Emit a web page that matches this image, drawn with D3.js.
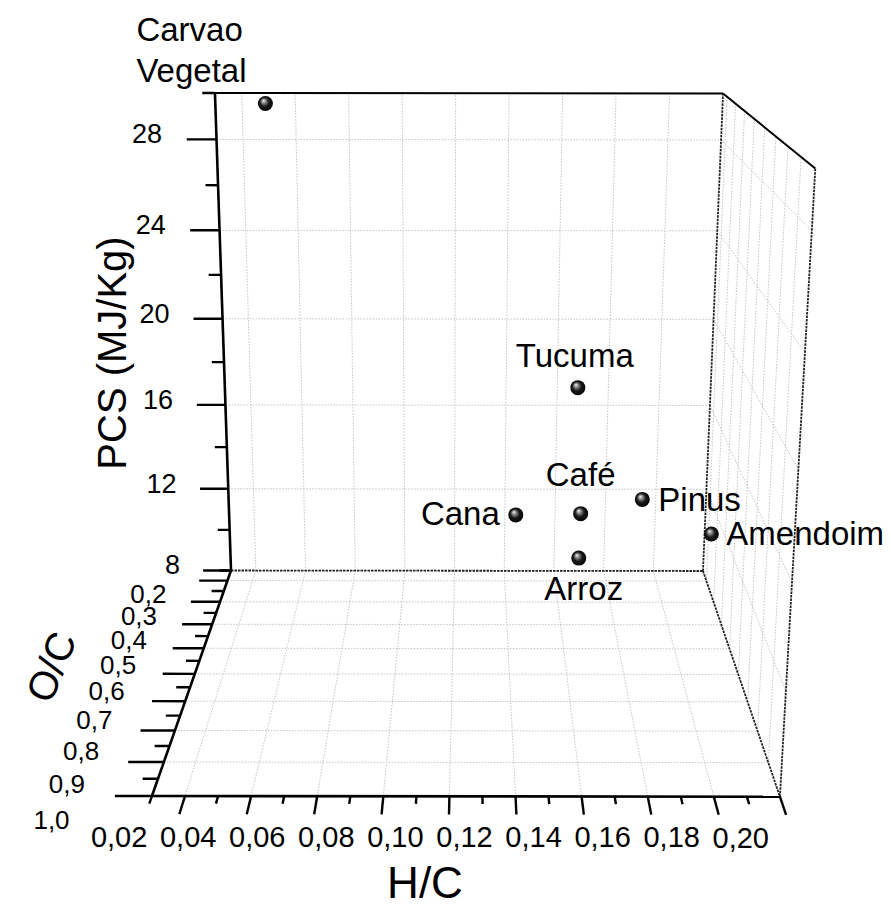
<!DOCTYPE html>
<html>
<head>
<meta charset="utf-8">
<script src="https://cdn.jsdelivr.net/npm/d3@7"></script>
<style>
  html, body { margin: 0; padding: 0; background: #fff; }
  svg { display: block; font-family: "Liberation Sans", Arial, Helvetica, sans-serif; }
</style>
</head>
<body>
<svg id="chart" width="891" height="910"></svg>
<script>
// ---- data: one entry per biomass sample ----
const names     = ["Carvao\nVegetal", "Tucuma", "Café", "Cana", "Pinus", "Amendoim", "Arroz"];
const hcValues  = [0.050, 0.159, 0.160, 0.140, 0.180, 0.199, 0.159];   // H/C
const ocValues  = [0.20,  0.80,  0.85,  0.85,  0.80,  0.90,  0.90];    // O/C
const pcsValues = [29.7,  21.4,  17.1,  17.05, 17.2,  16.8,  15.9];    // PCS (MJ/Kg)

// ---- axis ticks ----
const hcTickValues  = [0.02, 0.04, 0.06, 0.08, 0.10, 0.12, 0.14, 0.16, 0.18, 0.20];
const ocTickValues  = [0.2, 0.3, 0.4, 0.5, 0.6, 0.7, 0.8, 0.9, 1.0];
const pcsTickValues = [8, 12, 16, 20, 24, 28];

// label placement around each sphere (layout only)
const labelPlacement = [
  { anchor: "start",  dx: -129, dy: -62 },
  { anchor: "middle", dx: -3,   dy: -21 },
  { anchor: "middle", dx: 0,    dy: -28 },
  { anchor: "end",    dx: -16,  dy: 10 },
  { anchor: "start",  dx: 16,   dy: 12 },
  { anchor: "start",  dx: 15,   dy: 11 },
  { anchor: "middle", dx: 5,    dy: 42 }
];

const svg = d3.select("#chart");
const comma = d3.formatLocale({ decimal: ",", thousands: ".", grouping: [3], currency: ["", ""] });
const fmtHC = comma.format(".2f"), fmtOC = comma.format(".1f"), fmtPCS = d3.format("d");

// data -> unit cube coordinates
const hc  = d3.scaleLinear().domain([0.03, 0.22]).range([0, 1]);   // left -> right
const oc  = d3.scaleLinear().domain([0.15, 1.00]).range([0, 1]);   // back -> front
const pcs = d3.scaleLinear().domain([8, 30]).range([0, 1]);        // bottom -> top

// projective camera (3x4) taking unit-cube coordinates to screen pixels
const camera = [
  [472.0, -116.8,  -31.3, 231.0],
  [  0.5,   27.8, -484.1, 570.5],
  [  0.0,  -0.2484, -0.071,  1.0]
];
function project(u, v, w) {
  const p = [u, v, w, 1];
  const dot = r => r[0] * p[0] + r[1] * p[1] + r[2] * p[2] + r[3] * p[3];
  const s = dot(camera[2]);
  return [dot(camera[0]) / s, dot(camera[1]) / s];
}
const line3d = (a, b) => {
  const p = project(...a), q = project(...b);
  return `M${p[0]},${p[1]}L${q[0]},${q[1]}`;
};

const eps = 1e-9;
const hcMinor  = d3.range(0.03, 0.2201, 0.01).map(v => +v.toFixed(2));
const ocMinor  = d3.range(0.15, 1.0001, 0.05).map(v => +v.toFixed(2));
const pcsMinor = d3.range(8, 31, 2);
const isMajorHC  = v => Math.round(v * 100) % 2 === 0;
const isMajorOC  = v => Math.round(v * 100) % 10 === 0;
const isMajorPCS = v => v % 4 === 0;

// ---- grid ----
const grid = svg.append("g")
  .attr("fill", "none").attr("stroke", "#c4c4c4").attr("stroke-width", 1)
  .attr("stroke-dasharray", "1.5,1.5");
const innerHC  = hcMinor.filter(v => isMajorHC(v) && hc(v) > eps && hc(v) < 1 - eps);
const innerOC  = ocMinor.filter(v => isMajorOC(v) && oc(v) > eps && oc(v) < 1 - eps);
const innerPCS = pcsMinor.filter(v => isMajorPCS(v) && pcs(v) > eps && pcs(v) < 1 - eps);
// back wall
innerHC.forEach(v => grid.append("path").attr("d", line3d([hc(v), 0, 0], [hc(v), 0, 1])));
innerPCS.forEach(v => grid.append("path").attr("d", line3d([0, 0, pcs(v)], [1, 0, pcs(v)])));
// floor
innerHC.forEach(v => grid.append("path").attr("d", line3d([hc(v), 0, 0], [hc(v), 1, 0])));
innerOC.forEach(v => grid.append("path").attr("d", line3d([0, oc(v), 0], [1, oc(v), 0])));
// right wall
innerOC.forEach(v => grid.append("path").attr("d", line3d([1, oc(v), 0], [1, oc(v), 1])));
innerPCS.forEach(v => grid.append("path").attr("d", line3d([1, 0, pcs(v)], [1, 1, pcs(v)])));

// ---- box frame ----
const frame = svg.append("g").attr("fill", "none").attr("stroke", "#000");
[[[1, 0, 0], [1, 0, 1]], [[0, 0, 0], [1, 0, 0]], [[1, 0, 0], [1, 1, 0]], [[1, 1, 0], [1, 1, 1]]]
  .forEach(e => frame.append("path").attr("d", line3d(...e))
    .attr("stroke", "#222").attr("stroke-width", 1.8).attr("stroke-dasharray", "2.5,1"));
[[[0, 0, 1], [1, 0, 1]], [[1, 0, 1], [1, 1, 1]]]
  .forEach(e => frame.append("path").attr("d", line3d(...e)).attr("stroke-width", 2));
// axis lines
[[[0, 1, 0], [1, 1, 0]], [[0, 0, 0], [0, 1, 0]], [[0, 0, 0], [0, 0, 1]]]
  .forEach(e => frame.append("path").attr("d", line3d(...e)).attr("stroke-width", 2.6));

// ---- ticks ----
const majorLen = 0.059, minorLen = 0.025;
const ticks = svg.append("g").attr("stroke", "#000").attr("stroke-width", 2.4).attr("fill", "none");
hcMinor.forEach(v => {
  const L = isMajorHC(v) ? majorLen : minorLen;
  ticks.append("path").attr("d", line3d([hc(v), 1, 0], [hc(v), 1 + L, 0]));
});
ocMinor.forEach(v => {
  const L = isMajorOC(v) ? majorLen : minorLen;
  ticks.append("path").attr("d", line3d([0, oc(v), 0], [-L, oc(v), 0]));
});
pcsMinor.forEach(v => {
  const L = isMajorPCS(v) ? majorLen : minorLen;
  ticks.append("path").attr("d", line3d([0, 0, pcs(v)], [-L, 0, pcs(v)]));
});

// ---- tick labels ----
const tl = svg.append("g").attr("fill", "#000");
hcTickValues.forEach(v => {
  const [x, y] = project(hc(v), 1.13, 0);
  tl.append("text").attr("x", x + 16).attr("y", y).attr("dy", "0.35em")
    .attr("font-size", 29).attr("text-anchor", "middle").text(fmtHC(v));
});
ocTickValues.forEach(v => {
  const [x, y] = project(-0.115, oc(v + 0.065), 0);
  tl.append("text").attr("x", x).attr("y", y).attr("dy", "0.35em")
    .attr("text-anchor", "end").attr("font-size", 26).text(fmtOC(v));
});
pcsTickValues.forEach(v => {
  const [x, y] = project(-0.108, 0, pcs(v));
  tl.append("text").attr("x", x).attr("y", y + 4)
    .attr("text-anchor", "end").attr("font-size", 27).text(fmtPCS(v));
});

// ---- axis titles ----
const titles = svg.append("g").attr("font-size", 40).attr("fill", "#000");
titles.append("text").attr("transform", "translate(126,353) rotate(-90)")
  .attr("text-anchor", "middle").text("PCS (MJ/Kg)");
titles.append("text").attr("transform", "translate(64,672) rotate(-68)")
  .attr("text-anchor", "middle").text("O/C");
titles.append("text").attr("x", 425).attr("y", 898).attr("font-size", 44)
  .attr("text-anchor", "middle").text("H/C");

// ---- spheres ----
const defs = svg.append("defs");
const grad = defs.append("radialGradient").attr("id", "ball")
  .attr("cx", "0.5").attr("cy", "0.5").attr("r", "0.55").attr("fx", "0.36").attr("fy", "0.3");
grad.append("stop").attr("offset", "0").attr("stop-color", "#f4f4f4");
grad.append("stop").attr("offset", "0.25").attr("stop-color", "#8a8a8a");
grad.append("stop").attr("offset", "0.55").attr("stop-color", "#1a1a1a");
grad.append("stop").attr("offset", "1").attr("stop-color", "#000");

const points = names.map((n, i) => {
  const [x, y] = project(hc(hcValues[i]), oc(ocValues[i]), pcs(pcsValues[i]));
  return { name: n, x, y, depth: oc(ocValues[i]), place: labelPlacement[i] };
}).sort((a, b) => a.depth - b.depth);

const pg = svg.append("g");
pg.selectAll("circle").data(points).join("circle")
  .attr("cx", d => d.x).attr("cy", d => d.y).attr("r", 7.5)
  .attr("fill", "url(#ball)");

const lab = svg.append("g").attr("font-size", 33).attr("fill", "#000");
points.forEach(d => {
  const lines = d.name.split("\n");
  const t = lab.append("text").attr("text-anchor", d.place.anchor);
  lines.forEach((s, k) => {
    t.append("tspan").attr("x", d.x + d.place.dx).attr("y", d.y + d.place.dy + k * 41).text(s);
  });
});
</script>
</body>
</html>
